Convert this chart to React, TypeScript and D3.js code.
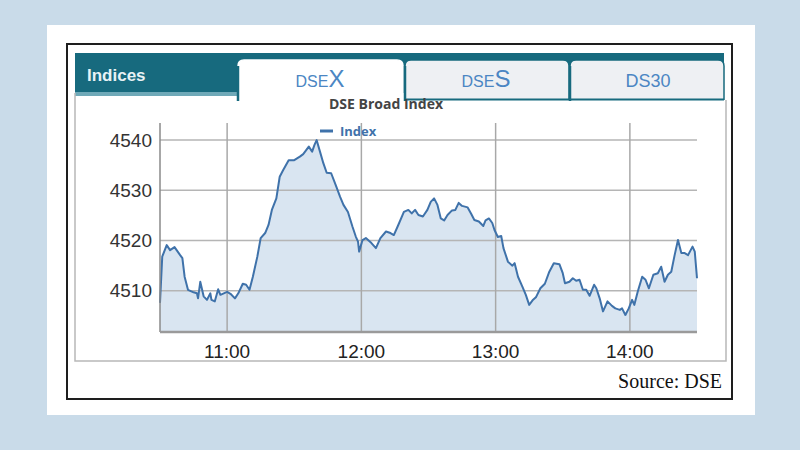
import React from "react";
import * as d3 from "d3";

const times: string[] = [
  "10:30:00","10:31:00","10:33:00","10:34:30","10:36:30","10:39:00","10:40:00","10:41:00","10:42:30","10:45:00",
  "10:46:30","10:47:00","10:48:00","10:49:30","10:51:00","10:52:30","10:53:00","10:54:30","10:56:00","10:57:00",
  "10:58:30","11:00:00","11:01:30","11:03:30","11:05:00","11:07:00","11:08:30","11:10:00","11:11:30","11:13:30",
  "11:15:00","11:17:00","11:18:30","11:20:00","11:22:00","11:23:30","11:25:00","11:27:30","11:30:00","11:32:30",
  "11:34:00","11:36:30","11:38:00","11:39:00","11:40:00","11:41:30","11:43:00","11:44:30","11:46:30","11:48:30",
  "11:50:30","11:52:00","11:54:00","11:56:00","11:57:30","11:58:30","11:59:00","12:00:30","12:02:00","12:04:30",
  "12:06:30","12:08:30","12:11:00","12:13:00","12:14:30","12:16:30","12:19:00","12:21:00","12:22:30","12:24:00",
  "12:25:30","12:27:30","12:29:30","12:31:00","12:32:30","12:34:00","12:35:30","12:37:00","12:38:30","12:40:30",
  "12:42:00","12:43:30","12:45:00","12:47:30","12:49:00","12:50:30","12:52:30","12:54:30","12:55:30","12:57:00",
  "12:58:30","12:59:30","13:01:00","13:02:30","13:03:30","13:05:30","13:07:30","13:08:30","13:10:00","13:12:00",
  "13:13:30","13:15:00","13:16:30","13:18:00","13:20:00","13:22:00","13:24:00","13:26:00","13:28:30","13:30:00",
  "13:31:00","13:33:00","13:34:30","13:36:00","13:37:30","13:39:00","13:40:30","13:42:00","13:44:00","13:45:00",
  "13:46:30","13:48:00","13:50:00","13:52:00","13:53:30","13:55:30","13:56:30","13:58:00","13:59:30","14:01:00",
  "14:02:00","14:03:30","14:05:30","14:07:00","14:08:30","14:10:30","14:12:30","14:14:00","14:15:30","14:17:00",
  "14:18:30","14:20:00","14:21:30","14:23:00","14:24:30","14:26:00","14:28:00","14:29:00","14:30:00"
];

const indexValues: number[] = [
  4507.6,4516.8,4519.1,4518.1,4518.7,4517.1,4516.5,4512.8,4510.2,4509.7,
  4509.5,4508.5,4511.8,4508.9,4508.2,4509.5,4508.2,4507.9,4510.3,4509.2,
  4509.5,4509.8,4509.4,4508.5,4509.5,4511.4,4511.2,4510.2,4512.8,4516.8,
  4520.5,4521.5,4523.1,4526.1,4528.4,4532.7,4534.0,4536.0,4536.0,4536.7,
  4537.2,4538.7,4537.7,4539.0,4540.0,4537.7,4535.4,4533.5,4533.4,4531.1,
  4528.7,4527.1,4525.7,4522.8,4520.8,4519.8,4517.8,4520.1,4520.5,4519.5,
  4518.5,4520.5,4521.8,4521.5,4521.1,4523.1,4525.7,4526.1,4525.4,4526.1,
  4525.1,4524.8,4526.1,4527.7,4528.4,4527.1,4524.4,4524.0,4525.1,4526.0,
  4526.1,4527.5,4526.9,4526.6,4525.4,4524.1,4523.8,4522.9,4524.0,4524.4,
  4523.5,4522.1,4520.7,4520.9,4518.5,4515.8,4515.0,4515.5,4512.8,4510.8,
  4509.2,4507.2,4508.1,4508.7,4510.5,4511.4,4513.8,4515.5,4515.3,4513.5,
  4511.5,4511.8,4512.5,4512.0,4512.2,4510.2,4510.2,4509.0,4511.2,4510.5,
  4508.5,4505.9,4507.9,4507.0,4506.5,4506.2,4506.5,4505.2,4506.5,4508.2,
  4507.2,4509.8,4512.8,4512.2,4510.5,4513.2,4513.5,4514.8,4511.8,4513.2,
  4513.8,4517.1,4520.1,4517.5,4517.5,4517.1,4518.8,4517.8,4512.5
];

const yTicks: number[] = [4510, 4520, 4530, 4540];
const xTickLabels: string[] = ["11:00", "12:00", "13:00", "14:00"];
const tabLabels: { main: string; big: string }[] = [
  { main: "DSE", big: "X" },
  { main: "DSE", big: "S" },
  { main: "DS30", big: "" },
];
const chartTitle = "DSE Broad Index";
const legendLabel = "Index";
const headerLabel = "Indices";
const sourceLabel = "Source: DSE";

const parse = d3.timeParse("%H:%M:%S");
const parseHM = d3.timeParse("%H:%M");

export default function App() {
  const data = times.map((t, i) => ({ t: parse(t) as Date, v: indexValues[i] }));
  const x = d3
    .scaleTime()
    .domain([parseHM("10:30") as Date, parseHM("14:30") as Date])
    .range([160, 697]);
  const y = d3.scaleLinear().domain([4501.8, 4543.4]).range([332, 123]);

  const area = d3
    .area<{ t: Date; v: number }>()
    .x((d) => x(d.t))
    .y0(y(4501.8))
    .y1((d) => y(d.v));
  const line = d3
    .line<{ t: Date; v: number }>()
    .x((d) => x(d.t))
    .y((d) => y(d.v));

  const [x0, x1] = x.range();
  const [yb, yt] = y.range();

  const tabColor = "#4b86c3";
  const teal = "#176a7e";

  const tabPath = (l: number, r: number, top: number, bottom: number, rad: number) =>
    `M${l},${bottom} L${l},${top + rad} Q${l},${top} ${l + rad},${top} L${r - rad},${top} Q${r},${top} ${r},${top + rad} L${r},${bottom}`;

  const tabs = [
    { l: 238, r: 403, cx: 320, active: true },
    { l: 405, r: 569, cx: 486, active: false },
    { l: 570, r: 724, cx: 648, active: false },
  ];

  return (
    <svg
      width={800}
      height={450}
      style={{ position: "absolute", left: 0, top: 0 }}
      fontFamily="'Liberation Sans', Arial, sans-serif"
    >
      <rect x={0} y={0} width={800} height={450} fill="#c9dbe9" />
      <rect x={47} y={25} width={708} height={390} fill="#ffffff" />
      <rect x={67} y={44} width={665} height={355} fill="#ffffff" stroke="#1e1e1e" strokeWidth={2} />

      {/* header bar */}
      <rect x={75} y={53} width={649} height={40} fill={teal} />
      <rect x={75} y={92} width={165} height={4} fill="#6fa9b8" />
      <text x={87} y={81} fill="#e8f2f5" fontSize={17} fontWeight="bold">
        {headerLabel}
      </text>

      {/* content box */}
      <path d="M75,93 L75,361 L726,361 L726,100" fill="none" stroke="#b8b8b8" strokeWidth={1.5} />

      {/* tabs */}
      {tabs.map((tb, i) => (
        <g key={i}>
          <path
            d={tabPath(tb.l, tb.r, 60, 100, 6) + " Z"}
            fill={tb.active ? "#ffffff" : "#eef0f3"}
            stroke="none"
          />
          <path
            d={tabPath(tb.l, tb.r, 60, 100, 6)}
            fill="none"
            stroke={tb.active ? "#ffffff" : teal}
            strokeWidth={1.5}
          />
          {!tb.active && <line x1={tb.l} x2={tb.r} y1={99.5} y2={99.5} stroke={teal} strokeWidth={2} />}
          <line x1={tb.l} x2={tb.l} y1={66} y2={101} stroke={teal} strokeWidth={2.5} />
          <text x={tb.cx} y={87} textAnchor="middle" fill={tabColor} fontSize={tabLabels[i].big ? 16 : 18}>
            {tabLabels[i].main}
            {tabLabels[i].big && <tspan fontSize={24}>{tabLabels[i].big}</tspan>}
          </text>
        </g>
      ))}

      <text
        x={386}
        y={109}
        textAnchor="middle"
        fill="#444"
        fontSize={14}
        fontWeight="bold"
        fontFamily="'Open Sans', sans-serif"
      >
        {chartTitle}
      </text>

      {/* area + line */}
      <path d={area(data) || ""} fill="#d9e5f1" />

      {/* grid */}
      {yTicks.map((t) => (
        <line key={t} x1={x0} x2={x1} y1={y(t)} y2={y(t)} stroke="#b5b5b5" strokeWidth={1.5} />
      ))}
      {xTickLabels.map((s) => {
        const xx = x(parseHM(s) as Date);
        return <line key={s} x1={xx} x2={xx} y1={yt} y2={yb} stroke="#a8a8a8" strokeWidth={1.5} />;
      })}

      <path d={line(data) || ""} fill="none" stroke="#3f72aa" strokeWidth={2} strokeLinejoin="round" />

      {/* axes */}
      <line x1={x0} x2={x0} y1={yt} y2={yb} stroke="#8a8a8a" strokeWidth={1.5} />
      <line x1={x0} x2={x1} y1={yb} y2={yb} stroke="#9a9a9a" strokeWidth={2.5} />

      {yTicks.map((t) => (
        <text key={t} x={152} y={y(t) + 6.5} textAnchor="end" fill="#333" fontSize={19}>
          {t}
        </text>
      ))}
      {xTickLabels.map((s) => (
        <text key={s} x={x(parseHM(s) as Date)} y={358} textAnchor="middle" fill="#222" fontSize={19}>
          {s}
        </text>
      ))}

      {/* legend */}
      <line x1={320} x2={333} y1={131} y2={131} stroke="#3f72aa" strokeWidth={3} />
      <text x={340} y={135.5} fill="#3f72aa" fontSize={13} fontWeight="bold" fontFamily="'Open Sans', sans-serif">
        {legendLabel}
      </text>

      <text x={722} y={388} textAnchor="end" fill="#111" fontSize={20} fontFamily="'Liberation Serif', 'Times New Roman', serif">
        {sourceLabel}
      </text>
    </svg>
  );
}
